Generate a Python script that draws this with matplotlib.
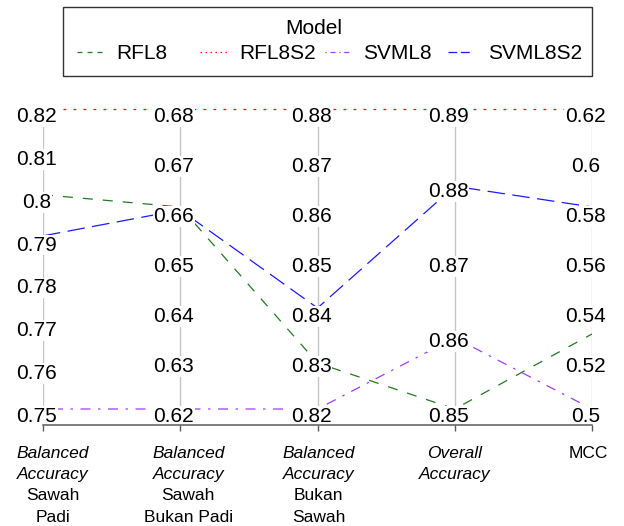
import numpy as np
import matplotlib
matplotlib.use("Agg")
import matplotlib.pyplot as plt
import matplotlib.transforms as mtransforms
from matplotlib.lines import Line2D
from matplotlib.patches import Rectangle

plt.rcParams['font.family'] = ['Liberation Sans', 'DejaVu Sans']
plt.rcParams['lines.scale_dashes'] = False

# axis titles, one list of (text, italic) per line
axis_titles = [
    [("Balanced", True), ("Accuracy", True), ("Sawah", False), ("Padi", False)],
    [("Balanced", True), ("Accuracy", True), ("Sawah", False), ("Bukan Padi", False)],
    [("Balanced", True), ("Accuracy", True), ("Bukan", False), ("Sawah", False)],
    [("Overall", True), ("Accuracy", True)],
    [("MCC", False)],
]

models = ["RFL8", "RFL8S2", "SVML8", "SVML8S2"]
rfl8 = [0.800, 0.6604, 0.8292, 0.850, 0.530]
rfl8s2 = [0.820, 0.680, 0.880, 0.890, 0.620]
svml8 = [0.750, 0.620, 0.820, 0.8595, 0.500]
svml8s2 = [0.7904, 0.6598, 0.8402, 0.8797, 0.5808]

tick_labels = [
    ["0.75", "0.76", "0.77", "0.78", "0.79", "0.8", "0.81", "0.82"],
    ["0.62", "0.63", "0.64", "0.65", "0.66", "0.67", "0.68"],
    ["0.82", "0.83", "0.84", "0.85", "0.86", "0.87", "0.88"],
    ["0.85", "0.86", "0.87", "0.88", "0.89"],
    ["0.5", "0.52", "0.54", "0.56", "0.58", "0.6", "0.62"],
]

colors = {"RFL8": "#237823", "RFL8S2": "#ff0000", "SVML8": "#a03cff", "SVML8S2": "#1a1aff"}
dashes = {"RFL8": (7.2, 7.2), "RFL8S2": (2.0, 5.2),
          "SVML8": (1.8, 5.4, 7.2, 5.4), "SVML8S2": (12.6, 5.4)}

vals = np.array([rfl8, rfl8s2, svml8, svml8s2])
mn = vals.min(axis=0)
mx = vals.max(axis=0)
norm = (vals - mn) / (mx - mn)
xs = np.arange(len(axis_titles))

W, H = 624, 526
fig = plt.figure(figsize=(W / 100, H / 100), dpi=100)
ax = fig.add_axes([43 / W, 101 / H, 549 / W, 331 / H])
ymin = -16 / 300
ax.set_xlim(0, 4)
ax.set_ylim(ymin, 1 + 15 / 300)

for s in ["left", "right", "top"]:
    ax.spines[s].set_visible(False)
ax.spines["bottom"].set_color("#5a5a5a")
ax.spines["bottom"].set_linewidth(1.1)
ax.spines["bottom"].set_zorder(7)
ax.xaxis.set_zorder(7)
ax.set_xticks(xs)
ax.set_xticklabels([])
ax.set_yticks([])
ax.tick_params(axis="x", length=4.5, width=1, color="#5a5a5a")

ax.vlines(xs, ymin, 1, color="#c4c4c4", lw=1.0, zorder=1)

for i, m in enumerate(models):
    ax.plot(xs, norm[i], color=colors[m], lw=0.9, linestyle=(0, dashes[m]), zorder=2)

# value labels on each axis
lab_tr = mtransforms.offset_copy(ax.transData, fig=fig, x=-6.5 * 0.72, y=-13 * 0.72, units="points")
for i, labs in enumerate(tick_labels):
    for p, s in zip(np.linspace(0, 1, len(labs)), labs):
        ax.text(i, p, s, transform=lab_tr, ha="center", va="baseline", fontsize=15,
                zorder=5, bbox=dict(facecolor="white", edgecolor="none", pad=0.6))

# axis titles below
title_tr = mtransforms.blended_transform_factory(ax.transData, fig.transFigure)
title_dx = [10, 8, 1, 0, -4]
baselines = [457.5, 479, 500.5, 522]
for i, rows in enumerate(axis_titles):
    for (txt, it), yb in zip(rows, baselines):
        fig.text(i + title_dx[i] / 137.25, 1 - yb / H, txt, transform=title_tr,
                 ha="center", va="baseline", fontsize=12.5,
                 style="italic" if it else "normal")

# legend
fig.add_artist(Rectangle((63 / W, 1 - 76 / H), 529 / W, 69 / H, transform=fig.transFigure,
                         fill=False, edgecolor="#333333", lw=1))
fig.text(314 / W, 1 - 34.3 / H, "Model", ha="center", va="baseline", fontsize=15)
key_x = [(77, 103), (200, 227), (325, 352), (448, 473)]
text_x = [116, 239, 363, 488]
for m, (x0, x1), tx in zip(models, key_x, text_x):
    half = tuple(d / 2 for d in dashes[m])
    fig.add_artist(Line2D([x0 / W, x1 / W], [1 - 52 / H, 1 - 52 / H], transform=fig.transFigure,
                          color=colors[m], lw=0.9, linestyle=(0, half)))
    fig.text(tx / W, 1 - 59.3 / H, m, ha="left", va="baseline", fontsize=15)

fig.savefig("out.png", dpi=100)
